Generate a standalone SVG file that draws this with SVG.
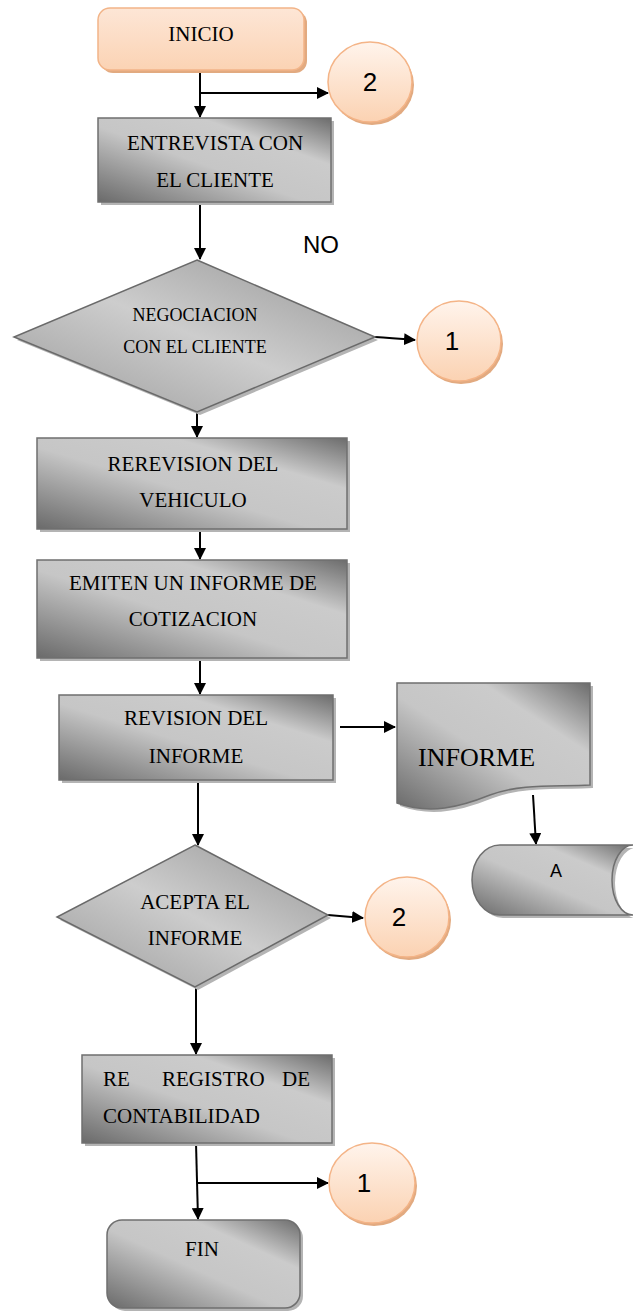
<svg xmlns="http://www.w3.org/2000/svg" width="633" height="1313" viewBox="0 0 633 1313">
  <defs>
    <!-- metallic grey fill for process boxes -->
    <linearGradient id="metal" x1="0" y1="1" x2="1" y2="0">
      <stop offset="0" stop-color="#6a6a6a"/>
      <stop offset="0.45" stop-color="#c6c6c6"/>
      <stop offset="0.72" stop-color="#cbcbcb"/>
      <stop offset="1" stop-color="#6c6c6c"/>
    </linearGradient>
    <!-- softer grey for decisions -->
    <linearGradient id="metalSoft" x1="0" y1="1" x2="1" y2="0">
      <stop offset="0" stop-color="#9a9a9a"/>
      <stop offset="0.5" stop-color="#cdcdcd"/>
      <stop offset="1" stop-color="#959595"/>
    </linearGradient>
    <!-- peach fill for terminators and connectors -->
    <linearGradient id="peach" x1="0" y1="0" x2="0" y2="1">
      <stop offset="0" stop-color="#fff4ec"/>
      <stop offset="1" stop-color="#fbd2b2"/>
    </linearGradient>
    <linearGradient id="peachBox" x1="0" y1="0" x2="0" y2="1">
      <stop offset="0" stop-color="#fde6d6"/>
      <stop offset="1" stop-color="#fbd3b4"/>
    </linearGradient>
    <marker id="arrow" viewBox="0 0 12 12" refX="11" refY="6" markerWidth="12" markerHeight="12" markerUnits="userSpaceOnUse" orient="auto">
      <path d="M0,0 L12,6 L0,12 Z" fill="#000"/>
    </marker>
    <style>
      .box { fill: url(#metal); stroke: #6f6f6f; stroke-width: 1.5; }
      .dec { fill: url(#metalSoft); stroke: #6a6a6a; stroke-width: 1.5; }
      .shadow { fill: #b4b4b4; }
      .pshadow { fill: #e2aa80; }
      .conn { fill: url(#peach); stroke: #f4b487; stroke-width: 1.5; }
      .term { fill: url(#peachBox); stroke: #f2b488; stroke-width: 1.5; }
      .edge { stroke: #000; stroke-width: 2; fill: none; }
      .serif { font-family: "Liberation Serif", "Times New Roman", serif; font-size: 21px; fill: #000; }
      .small { font-size: 18px; }
      .big { font-size: 26px; }
      .sans { font-family: "Liberation Sans", Arial, sans-serif; fill: #000; }
      .num { font-size: 26px; }
    </style>
  </defs>
  <rect width="633" height="1313" fill="#fff"/>

  <!-- connectors -->
  <g id="connectors">
    <path class="edge" d="M200,70 V117" marker-end="url(#arrow)"/>
    <path class="edge" d="M200,93 H328" marker-end="url(#arrow)"/>
    <path class="edge" d="M200,202 V259" marker-end="url(#arrow)"/>
    <path class="edge" d="M375,337 Q390,338 415,340" marker-end="url(#arrow)"/>
    <path class="edge" d="M197,412 V437" marker-end="url(#arrow)"/>
    <path class="edge" d="M200,531 V559" marker-end="url(#arrow)"/>
    <path class="edge" d="M200,658 V694" marker-end="url(#arrow)"/>
    <path class="edge" d="M340,727 H395" marker-end="url(#arrow)"/>
    <path class="edge" d="M533,795 L536,844" marker-end="url(#arrow)"/>
    <path class="edge" d="M198,780 V845" marker-end="url(#arrow)"/>
    <path class="edge" d="M328,915 L363,918" marker-end="url(#arrow)"/>
    <path class="edge" d="M196,988 V1054" marker-end="url(#arrow)"/>
    <path class="edge" d="M196,1143 L198,1219" marker-end="url(#arrow)"/>
    <path class="edge" d="M197,1183 H328" marker-end="url(#arrow)"/>
  </g>

  <g id="inicio">
    <rect class="pshadow" x="101" y="11" width="206" height="62" rx="12"/>
    <rect class="term" x="98" y="8" width="206" height="62" rx="12"/>
    <text class="serif" x="201" y="41" text-anchor="middle">INICIO</text>
  </g>

  <g id="conector-2a">
    <ellipse class="pshadow" cx="372" cy="85" rx="42" ry="40"/>
    <ellipse class="conn" cx="370" cy="82" rx="42" ry="40"/>
    <text class="sans num" x="370" y="91" text-anchor="middle">2</text>
  </g>

  <g id="entrevista">
    <rect class="shadow" x="101" y="121" width="233" height="84"/>
    <rect class="box" x="98" y="118" width="233" height="84"/>
    <text class="serif" x="215" y="150" text-anchor="middle">ENTREVISTA CON</text>
    <text class="serif" x="215" y="187" text-anchor="middle">EL CLIENTE</text>
  </g>

  <g id="etiqueta-no">
    <text class="sans" x="303" y="253" style="font-size:24px">NO</text>
  </g>

  <g id="negociacion">
    <polygon class="shadow" points="200,263 378,340 200,415 17,340"/>
    <polygon class="dec" points="197,260 375,337 197,412 14,337"/>
    <text class="serif small" x="195" y="321" text-anchor="middle">NEGOCIACION</text>
    <text class="serif small" x="195" y="353" text-anchor="middle">CON EL CLIENTE</text>
  </g>

  <g id="conector-1a">
    <ellipse class="pshadow" cx="461" cy="344" rx="42" ry="40"/>
    <ellipse class="conn" cx="459" cy="341" rx="42" ry="40"/>
    <text class="sans num" x="452" y="350" text-anchor="middle">1</text>
  </g>

  <g id="rerevision">
    <rect class="shadow" x="40" y="441" width="310" height="91"/>
    <rect class="box" x="37" y="438" width="310" height="91"/>
    <text class="serif" x="193" y="471" text-anchor="middle">REREVISION DEL</text>
    <text class="serif" x="193" y="507" text-anchor="middle">VEHICULO</text>
  </g>

  <g id="emiten">
    <rect class="shadow" x="40" y="563" width="310" height="98"/>
    <rect class="box" x="37" y="560" width="310" height="98"/>
    <text class="serif" x="193" y="590" text-anchor="middle">EMITEN UN INFORME DE</text>
    <text class="serif" x="193" y="626" text-anchor="middle">COTIZACION</text>
  </g>

  <g id="revision">
    <rect class="shadow" x="62" y="698" width="274" height="85"/>
    <rect class="box" x="59" y="695" width="274" height="85"/>
    <text class="serif" x="196" y="725" text-anchor="middle">REVISION DEL</text>
    <text class="serif" x="196" y="763" text-anchor="middle">INFORME</text>
  </g>

  <g id="informe">
    <path class="shadow" d="M400,686 H593 V788 C560,790 525,786 493,798 C463,810 433,818 400,806 Z"/>
    <path class="box" d="M397,683 H590 V785 C557,787 522,783 490,795 C460,807 430,815 397,803 Z"/>
    <text class="serif big" x="418" y="766">INFORME</text>
  </g>

  <g id="almacen-a">
    <path class="shadow" d="M503,848 H636 A21,35 0 0 0 636,918 H503 A28,35 0 0 1 503,848 Z"/>
    <path class="box" d="M500,845 H633 A21,35 0 0 0 633,915 H500 A28,35 0 0 1 500,845 Z"/>
    <text class="sans" x="556" y="877" style="font-size:18px" text-anchor="middle">A</text>
  </g>

  <g id="acepta">
    <polygon class="shadow" points="198,848 331,918 198,990 60,920"/>
    <polygon class="dec" points="195,845 328,915 195,987 57,917"/>
    <text class="serif" x="195" y="909" text-anchor="middle">ACEPTA EL</text>
    <text class="serif" x="195" y="945" text-anchor="middle">INFORME</text>
  </g>

  <g id="conector-2b">
    <ellipse class="pshadow" cx="409" cy="920" rx="42" ry="40"/>
    <ellipse class="conn" cx="407" cy="917" rx="42" ry="40"/>
    <text class="sans num" x="399" y="926" text-anchor="middle">2</text>
  </g>

  <g id="registro">
    <rect class="shadow" x="85" y="1058" width="250" height="88"/>
    <rect class="box" x="82" y="1055" width="250" height="88"/>
    <text class="serif" y="1086"><tspan x="103">RE</tspan><tspan x="162">REGISTRO</tspan><tspan x="282">DE</tspan></text>
    <text class="serif" x="103" y="1123">CONTABILIDAD</text>
  </g>

  <g id="conector-1b">
    <ellipse class="pshadow" cx="374" cy="1186" rx="43" ry="40"/>
    <ellipse class="conn" cx="372" cy="1183" rx="43" ry="40"/>
    <text class="sans num" x="364" y="1192" text-anchor="middle">1</text>
  </g>

  <g id="fin">
    <rect class="shadow" x="110" y="1223" width="193" height="88" rx="15"/>
    <rect class="box" x="107" y="1220" width="193" height="88" rx="15"/>
    <text class="serif" x="202" y="1256" text-anchor="middle">FIN</text>
  </g>
</svg>
